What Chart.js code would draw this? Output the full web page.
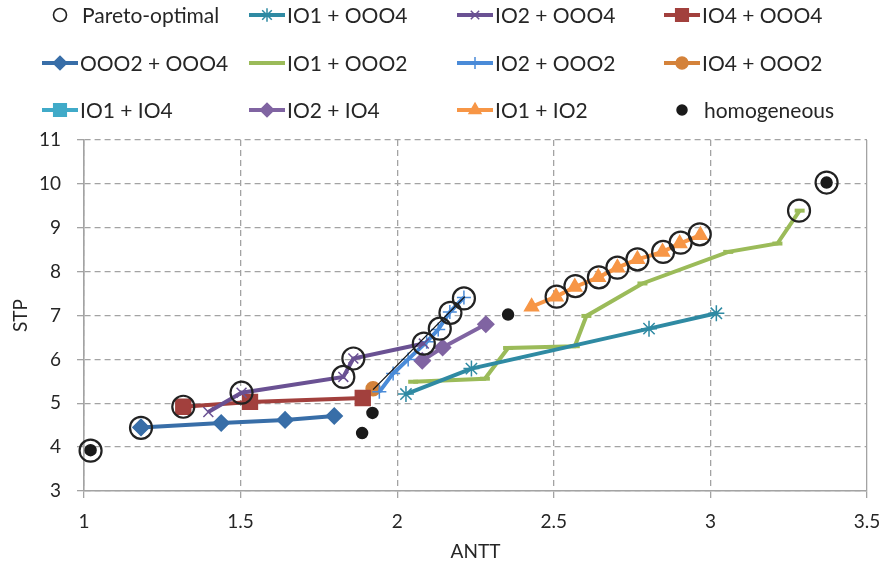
<!DOCTYPE html>
<html>
<head>
<meta charset="utf-8">
<script src="https://cdn.jsdelivr.net/npm/chart.js@4.4.0/dist/chart.umd.min.js"></script>
<style>
  html, body { margin: 0; padding: 0; background: #fff; }
</style>
</head>
<body>
<canvas id="stpChart" width="886" height="565"></canvas>
<script>
/* ---- data: [ANTT, STP] pairs ---- */
const paretoOptimal = [
  [1.021, 3.92], [1.182, 4.44], [1.317, 4.92], [1.503, 5.24], [1.828, 5.60],
  [1.860, 6.02], [2.085, 6.36], [2.136, 6.70], [2.170, 7.06], [2.213, 7.39],
  [2.509, 7.43], [2.569, 7.67], [2.644, 7.87], [2.703, 8.09], [2.767, 8.28],
  [2.849, 8.45], [2.905, 8.66], [2.966, 8.85], [3.283, 9.39], [3.371, 10.03],
];
const io1Ooo4 = [[2.028, 5.21], [2.237, 5.79], [2.804, 6.70], [3.019, 7.05]];
const io2Ooo4 = [[1.397, 4.80], [1.503, 5.24], [1.828, 5.60], [1.860, 6.02], [2.085, 6.36]];
const io4Ooo4 = [[1.317, 4.92], [1.530, 5.03], [1.890, 5.12]];
const ooo2Ooo4 = [[1.182, 4.45], [1.438, 4.55], [1.642, 4.62], [1.799, 4.71]];
const io1Ooo2 = [
  [2.051, 5.49], [2.280, 5.56], [2.354, 6.26], [2.567, 6.30], [2.604, 6.99],
  [2.783, 7.73], [3.057, 8.45], [3.214, 8.64], [3.285, 9.39],
];
const io2Ooo2 = [
  [1.943, 5.26], [1.987, 5.68], [2.035, 6.00], [2.094, 6.40],
  [2.131, 6.68], [2.168, 7.08], [2.213, 7.41],
];
const io4Ooo2 = [[1.923, 5.33]];
const io1Io4 = [];
const io2Io4 = [[2.080, 5.97], [2.145, 6.27], [2.283, 6.80]];
const io1Io2 = [
  [2.429, 7.20], [2.507, 7.43], [2.567, 7.65], [2.642, 7.87], [2.703, 8.09],
  [2.767, 8.28], [2.847, 8.45], [2.902, 8.64], [2.968, 8.83],
];
const homogeneous = [[1.021, 3.93], [1.888, 4.32], [1.921, 4.78], [2.354, 7.02], [3.371, 10.03]];
const fitLine = [[1.923, 5.31], [2.216, 7.43]];   // thin black line over IO2 + OOO2

const xTicks = [1, 1.5, 2, 2.5, 3, 3.5];
const yTicks = [3, 4, 5, 6, 7, 8, 9, 10, 11];

const FONT = 'Lato, "Open Sans", sans-serif';
const AXIS_GREY = '#a3a3a3';

const pts = arr => arr.map(p => ({ x: p[0], y: p[1] }));

/* series: label, data, colour, marker, radius, whether a line joins them */
function series(label, data, color, style, radius, extra) {
  return Object.assign({
    label:                label,
    data:                 pts(data),
    showLine:             true,
    borderColor:          color,
    backgroundColor:      color,
    borderWidth:          4,
    pointStyle:           style,
    pointRadius:          radius,
    pointBorderColor:     color,
    pointBackgroundColor: color,
    pointBorderWidth:     1.5,
    tension:              0,
    clip:                 false,
    order:                5,
  }, extra || {});
}

const datasets = [
  series('Pareto-optimal', paretoOptimal, '#222222', 'circle', 11, {
    showLine: false, pointBackgroundColor: 'rgba(0,0,0,0)', pointBorderWidth: 2.2,
    order: 0, legendRadius: 6.5, legendWidth: 1.6,
  }),
  series('IO1 + OOO4', io1Ooo4, '#2f8aa3', 'star', 8),
  series('IO2 + OOO4', io2Ooo4, '#6a5193', 'crossRot', 7),
  series('IO4 + OOO4', io4Ooo4, '#a2403d', 'rect', 10.5),
  series('OOO2 + OOO4', ooo2Ooo4, '#386ea8', 'rectRot', 8),
  series('IO1 + OOO2', io1Ooo2, '#9bbb59', 'line', 5, { pointBorderWidth: 4 }),
  series('IO2 + OOO2', io2Ooo2, '#4a8bd8', 'cross', 7),
  series('IO4 + OOO2', io4Ooo2, '#d4823a', 'circle', 7),
  series('IO1 + IO4', io1Io4, '#40aac8', 'rect', 10.5),
  series('IO2 + IO4', io2Io4, '#8064a2', 'rectRot', 8),
  series('IO1 + IO2', io1Io2, '#f79646', 'triangle', 8),
  series('homogeneous', homogeneous, '#1a1a1a', 'circle', 5.5, {
    showLine: false, order: 1, legendRadius: 5,
  }),
  series('', fitLine, '#111111', 'circle', 0, {
    borderWidth: 1.3, order: 2, noLegend: true,
  }),
];

/* Legend drawn as a 4-column grid above the plot, like the original */
const LEG_COL_X = [42, 249, 457, 664];
const LEG_ROW_Y = [15, 63, 110];
const legendGrid = {
  id: 'legendGrid',
  afterDraw(chart) {
    const ctx = chart.ctx;
    const H = Chart.helpers;
    ctx.save();
    ctx.font = '21px ' + FONT;
    ctx.textBaseline = 'middle';
    chart.data.datasets.filter(d => !d.noLegend).forEach((ds, i) => {
      const x0 = LEG_COL_X[i % 4];
      const y = LEG_ROW_Y[Math.floor(i / 4)];
      if (ds.showLine) {
        ctx.strokeStyle = ds.borderColor;
        ctx.lineWidth = 4;
        ctx.beginPath();
        ctx.moveTo(x0, y);
        ctx.lineTo(x0 + 36, y);
        ctx.stroke();
      }
      ctx.strokeStyle = ds.pointBorderColor;
      ctx.fillStyle = ds.pointBackgroundColor;
      ctx.lineWidth = ds.legendWidth || ds.pointBorderWidth;
      H.drawPoint(ctx, {
        pointStyle:  ds.pointStyle,
        radius:      ds.legendRadius || ds.pointRadius * 0.85,
        rotation:    0,
        borderWidth: ds.legendWidth || ds.pointBorderWidth,
      }, x0 + 18, y);
      ctx.fillStyle = '#262626';
      ctx.fillText(ds.label, x0 + (ds.showLine ? 38 : 40), y + 1);
    });
    ctx.restore();
  },
};

new Chart(document.getElementById('stpChart'), {
  type: 'scatter',
  data: { datasets },
  options: {
    responsive: false,
    animation:  false,
    layout:     { padding: { top: 140, right: 19, bottom: 0, left: 0 } },
    plugins: {
      legend:  { display: false },
      tooltip: { enabled: false },
    },
    scales: {
      x: {
        type: 'linear',
        min:  xTicks[0],
        max:  xTicks[xTicks.length - 1],
        afterBuildTicks: s => { s.ticks = xTicks.map(v => ({ value: v })); },
        afterFit: s => { s.height = 74; s.paddingLeft = 0; s.paddingRight = 0; },
        ticks: {
          color: '#262626', font: { family: FONT, size: 19 }, padding: 12,
          callback: v => String(v), maxRotation: 0,
        },
        grid: {
          color: AXIS_GREY, lineWidth: 1.3, tickColor: AXIS_GREY, tickLength: 7,
        },
        border: {
          color: AXIS_GREY, width: 1.6,
          dash: c => (c.tick && c.tick.value === 3.5) ? [] : [6, 4],
        },
        title: {
          display: true, text: 'ANTT', color: '#262626',
          font: { family: FONT, size: 19 }, padding: { top: 0, bottom: 2 },
        },
      },
      y: {
        type: 'linear',
        min:  yTicks[0],
        max:  yTicks[yTicks.length - 1],
        afterBuildTicks: s => { s.ticks = yTicks.map(v => ({ value: v })); },
        afterFit: s => { s.width = 84; s.paddingTop = 0; s.paddingBottom = 0; },
        ticks: {
          color: '#262626', font: { family: FONT, size: 19 }, padding: 16,
          callback: v => String(v),
        },
        grid: {
          color: AXIS_GREY, lineWidth: 1.3, tickColor: AXIS_GREY, tickLength: 7,
        },
        border: { color: AXIS_GREY, width: 1.6, dash: [6, 4] },
        title: {
          display: true, text: 'STP', color: '#262626',
          font: { family: FONT, size: 19 }, padding: { top: 9, bottom: 0 },
        },
      },
    },
  },
  plugins: [legendGrid],
});
</script>
</body>
</html>
